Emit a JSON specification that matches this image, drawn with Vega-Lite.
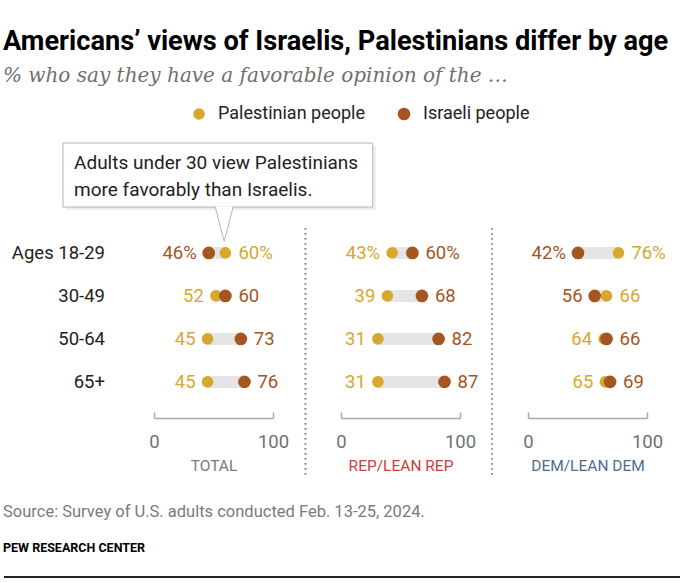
{
  "$schema": "https://vega.github.io/schema/vega-lite/v6.json",
  "padding": {"left": 3, "top": 27, "right": 2, "bottom": 2},
  "background": "white",
  "title": {
    "text": "Americans’ views of Israelis, Palestinians differ by age",
    "subtitle": "% who say they have a favorable opinion of the …",
    "anchor": "start",
    "font": "Roboto",
    "fontSize": 27.2,
    "fontWeight": "bold",
    "color": "#000000",
    "subtitleFont": "DejaVu Serif",
    "subtitleFontStyle": "italic",
    "subtitleFontSize": 20,
    "subtitleColor": "#707070",
    "subtitlePadding": 10,
    "offset": 18
  },
  "data": {
    "values": [
      {"panel": "TOTAL", "age": "Ages 18-29", "Palestinian": 60, "Israeli": 46},
      {"panel": "TOTAL", "age": "30-49", "Palestinian": 52, "Israeli": 60},
      {"panel": "TOTAL", "age": "50-64", "Palestinian": 45, "Israeli": 73},
      {"panel": "TOTAL", "age": "65+", "Palestinian": 45, "Israeli": 76},
      {"panel": "REP", "age": "Ages 18-29", "Palestinian": 43, "Israeli": 60},
      {"panel": "REP", "age": "30-49", "Palestinian": 39, "Israeli": 68},
      {"panel": "REP", "age": "50-64", "Palestinian": 31, "Israeli": 82},
      {"panel": "REP", "age": "65+", "Palestinian": 31, "Israeli": 87},
      {"panel": "DEM", "age": "Ages 18-29", "Palestinian": 76, "Israeli": 42},
      {"panel": "DEM", "age": "30-49", "Palestinian": 66, "Israeli": 56},
      {"panel": "DEM", "age": "50-64", "Palestinian": 64, "Israeli": 66},
      {"panel": "DEM", "age": "65+", "Palestinian": 65, "Israeli": 69}
    ]
  },
  "transform": [
    {"window": [{"op": "row_number", "as": "row"}], "groupby": ["panel"]},
    {"calculate": "min(datum.Palestinian, datum.Israeli)", "as": "lo"},
    {"calculate": "max(datum.Palestinian, datum.Israeli)", "as": "hi"}
  ],
  "spacing": 25,
  "vconcat": [
    {
      "spacing": 68,
      "bounds": "flush",
      "hconcat": [
        {
          "width": 119,
          "height": 190,
          "transform": [{"filter": "datum.panel == 'TOTAL'"}],
          "encoding": {
            "y": {"field": "row", "type": "quantitative", "scale": {"domain": [0.42, 4.84], "reverse": true, "nice": false, "zero": false}, "axis": null}
          },
          "layer": [
            {
              "mark": {"type": "rule", "color": "#9a9a9a", "strokeWidth": 1.5, "strokeDash": [1.5, 3.5]},
              "encoding": {
                "x": {"datum": 127.3, "type": "quantitative"},
                "y": {"datum": 0.42, "type": "quantitative"},
                "y2": {"datum": 6.23}
              }
            },
            {
              "mark": {"type": "rule", "color": "#e5e5e5", "strokeWidth": 12, "strokeCap": "butt"},
              "encoding": {
                "x": {"field": "lo", "type": "quantitative", "scale": {"domain": [0, 100], "nice": false},
                      "axis": {"values": [0, 100], "title": "TOTAL", "titleColor": "#7a7a7a"}},
                "x2": {"field": "hi"}
              }
            },
            {
              "transform": [{"fold": ["Palestinian", "Israeli"], "as": ["group", "value"]}],
              "mark": {"type": "circle", "opacity": 1},
              "encoding": {
                "x": {"field": "value", "type": "quantitative"},
                "color": {"field": "group", "type": "nominal",
                  "scale": {"domain": ["Palestinian", "Israeli"], "range": ["#D6A82F", "#A5551F"]},
                  "legend": {"orient": "none", "legendX": 36, "legendY": -123, "direction": "horizontal", "columns": 2, "title": null,
                    "labelExpr": "datum.label + ' people'", "symbolType": "circle", "symbolSize": 130, "labelOffset": 10, "columnPadding": 30}},
                "size": {"field": "group", "type": "nominal", "scale": {"domain": ["Palestinian", "Israeli"], "range": [135, 160]}, "legend": null}
              }
            },
            {
              "transform": [
                {"fold": ["Palestinian", "Israeli"], "as": ["group", "value"]},
                {"filter": "datum.value == datum.lo"},
                {"calculate": "datum.row == 1 ? datum.value + '%' : '' + datum.value", "as": "label"}
              ],
              "mark": {"type": "text", "align": "right", "baseline": "middle", "dx": -12, "fontSize": 18.5},
              "encoding": {
                "x": {"field": "value", "type": "quantitative"},
                "text": {"field": "label"},
                "color": {"field": "group", "type": "nominal", "legend": null}
              }
            },
            {
              "transform": [
                {"fold": ["Palestinian", "Israeli"], "as": ["group", "value"]},
                {"filter": "datum.value == datum.hi"},
                {"calculate": "datum.row == 1 ? datum.value + '%' : '' + datum.value", "as": "label"}
              ],
              "mark": {"type": "text", "align": "left", "baseline": "middle", "dx": 13, "fontSize": 18.5},
              "encoding": {
                "x": {"field": "value", "type": "quantitative"},
                "text": {"field": "label"},
                "color": {"field": "group", "type": "nominal", "legend": null}
              }
            },
            {
              "mark": {"type": "text", "align": "right", "baseline": "middle", "fontSize": 18.5, "color": "#222222"},
              "encoding": {
                "x": {"datum": -41.2, "type": "quantitative"},
                "text": {"field": "age"}
              }
            },
            {
              "transform": [{"filter": "datum.row == 1"}],
              "mark": {"type": "rect", "fill": "#000000", "opacity": 0.07, "xOffset": 3, "x2Offset": 3, "yOffset": 3, "y2Offset": 3},
              "encoding": {
                "x": {"datum": -76.5, "type": "quantitative"},
                "x2": {"datum": 183.8},
                "y": {"datum": -1.557, "type": "quantitative"},
                "y2": {"datum": -0.068}
              }
            },
            {
              "transform": [{"filter": "datum.row == 1"}],
              "mark": {"type": "rect", "fill": "#ffffff", "stroke": "#b5b5b5", "strokeWidth": 1},
              "encoding": {
                "x": {"datum": -76.5, "type": "quantitative"},
                "x2": {"datum": 183.8},
                "y": {"datum": -1.557, "type": "quantitative"},
                "y2": {"datum": -0.068}
              }
            },
            {
              "transform": [{"filter": "datum.row == 1"}],
              "mark": {"type": "point", "shape": "M-0.55,-1.12L0,1L0.55,-1.12", "size": 1089, "filled": true, "fill": "#ffffff", "stroke": "#b5b5b5", "strokeWidth": 1, "opacity": 1},
              "encoding": {
                "x": {"datum": 59, "type": "quantitative"},
                "y": {"datum": 0.35, "type": "quantitative"}
              }
            },
            {
              "transform": [{"filter": "datum.row == 1"}],
              "mark": {"type": "text", "align": "left", "baseline": "middle", "fontSize": 19, "lineHeight": 27, "color": "#222222",
                       "text": ["Adults under 30 view Palestinians", "more favorably than Israelis."]},
              "encoding": {
                "x": {"datum": -67.2, "type": "quantitative"},
                "y": {"datum": -1.092, "type": "quantitative"}
              }
            }
          ]
        },
        {
          "width": 119,
          "height": 190,
          "transform": [{"filter": "datum.panel == 'REP'"}],
          "encoding": {
            "y": {"field": "row", "type": "quantitative", "scale": {"domain": [0.42, 4.84], "reverse": true, "nice": false, "zero": false}, "axis": null}
          },
          "layer": [
            {
              "mark": {"type": "rule", "color": "#9a9a9a", "strokeWidth": 1.5, "strokeDash": [1.5, 3.5]},
              "encoding": {
                "x": {"datum": 127, "type": "quantitative"},
                "y": {"datum": 0.42, "type": "quantitative"},
                "y2": {"datum": 6.23}
              }
            },
            {
              "mark": {"type": "rule", "color": "#e5e5e5", "strokeWidth": 12, "strokeCap": "butt"},
              "encoding": {
                "x": {"field": "lo", "type": "quantitative", "scale": {"domain": [0, 100], "nice": false},
                      "axis": {"values": [0, 100], "title": "REP/LEAN REP", "titleColor": "#C8403A"}},
                "x2": {"field": "hi"}
              }
            },
            {
              "transform": [{"fold": ["Palestinian", "Israeli"], "as": ["group", "value"]}],
              "mark": {"type": "circle", "opacity": 1},
              "encoding": {
                "x": {"field": "value", "type": "quantitative"},
                "color": {"field": "group", "type": "nominal"},
                "size": {"field": "group", "type": "nominal", "legend": null}
              }
            },
            {
              "transform": [
                {"fold": ["Palestinian", "Israeli"], "as": ["group", "value"]},
                {"filter": "datum.value == datum.lo"},
                {"calculate": "datum.row == 1 ? datum.value + '%' : '' + datum.value", "as": "label"}
              ],
              "mark": {"type": "text", "align": "right", "baseline": "middle", "dx": -12, "fontSize": 18.5},
              "encoding": {
                "x": {"field": "value", "type": "quantitative"},
                "text": {"field": "label"},
                "color": {"field": "group", "type": "nominal", "legend": null}
              }
            },
            {
              "transform": [
                {"fold": ["Palestinian", "Israeli"], "as": ["group", "value"]},
                {"filter": "datum.value == datum.hi"},
                {"calculate": "datum.row == 1 ? datum.value + '%' : '' + datum.value", "as": "label"}
              ],
              "mark": {"type": "text", "align": "left", "baseline": "middle", "dx": 13, "fontSize": 18.5},
              "encoding": {
                "x": {"field": "value", "type": "quantitative"},
                "text": {"field": "label"},
                "color": {"field": "group", "type": "nominal", "legend": null}
              }
            }
          ]
        },
        {
          "width": 119,
          "height": 190,
          "transform": [{"filter": "datum.panel == 'DEM'"}],
          "encoding": {
            "y": {"field": "row", "type": "quantitative", "scale": {"domain": [0.42, 4.84], "reverse": true, "nice": false, "zero": false}, "axis": null}
          },
          "layer": [
            {
              "mark": {"type": "rule", "color": "#e5e5e5", "strokeWidth": 12, "strokeCap": "butt"},
              "encoding": {
                "x": {"field": "lo", "type": "quantitative", "scale": {"domain": [0, 100], "nice": false},
                      "axis": {"values": [0, 100], "title": "DEM/LEAN DEM", "titleColor": "#4D6F8E"}},
                "x2": {"field": "hi"}
              }
            },
            {
              "transform": [{"fold": ["Palestinian", "Israeli"], "as": ["group", "value"]}],
              "mark": {"type": "circle", "opacity": 1},
              "encoding": {
                "x": {"field": "value", "type": "quantitative"},
                "color": {"field": "group", "type": "nominal"},
                "size": {"field": "group", "type": "nominal", "legend": null}
              }
            },
            {
              "transform": [
                {"fold": ["Palestinian", "Israeli"], "as": ["group", "value"]},
                {"filter": "datum.value == datum.lo"},
                {"calculate": "datum.row == 1 ? datum.value + '%' : '' + datum.value", "as": "label"}
              ],
              "mark": {"type": "text", "align": "right", "baseline": "middle", "dx": -12, "fontSize": 18.5},
              "encoding": {
                "x": {"field": "value", "type": "quantitative"},
                "text": {"field": "label"},
                "color": {"field": "group", "type": "nominal", "legend": null}
              }
            },
            {
              "transform": [
                {"fold": ["Palestinian", "Israeli"], "as": ["group", "value"]},
                {"filter": "datum.value == datum.hi"},
                {"calculate": "datum.row == 1 ? datum.value + '%' : '' + datum.value", "as": "label"}
              ],
              "mark": {"type": "text", "align": "left", "baseline": "middle", "dx": 13, "fontSize": 18.5},
              "encoding": {
                "x": {"field": "value", "type": "quantitative"},
                "text": {"field": "label"},
                "color": {"field": "group", "type": "nominal", "legend": null}
              }
            }
          ]
        }
      ]
    },
    {
      "width": 527,
      "height": 1,
      "data": {"values": [{}]},
      "title": {
        "text": "Source: Survey of U.S. adults conducted Feb. 13-25, 2024.",
        "subtitle": "PEW RESEARCH CENTER",
        "anchor": "start",
        "font": "Roboto",
        "fontSize": 16.5,
        "fontWeight": "normal",
        "color": "#7a7a7a",
        "subtitleFont": "Roboto",
        "subtitleFontSize": 12.5,
        "subtitleFontWeight": "bold",
        "subtitleColor": "#000000",
        "subtitlePadding": 21,
        "offset": 22
      },
      "mark": {"type": "rule", "color": "#222222", "strokeWidth": 2},
      "encoding": {
        "x": {"datum": -150, "type": "quantitative", "scale": {"domain": [0, 527], "nice": false}, "axis": null},
        "x2": {"datum": 527},
        "y": {"datum": 0, "type": "quantitative", "scale": {"domain": [0, 1]}, "axis": null}
      }
    }
  ],
  "config": {
    "view": {"stroke": null},
    "font": "Roboto",
    "text": {"font": "Roboto"},
    "axis": {
      "grid": false,
      "labelFont": "Roboto",
      "labelFontSize": 18.5,
      "labelColor": "#707070",
      "labelFlush": false,
      "titleFont": "Roboto",
      "titleFontSize": 15.5,
      "titleFontWeight": "normal",
      "domainColor": "#a8a8a8",
      "domainWidth": 1.5,
      "tickColor": "#a8a8a8",
      "tickWidth": 1.5,
      "tickSize": -6,
      "labelPadding": 20,
      "titlePadding": 7.5
    },
    "legend": {
      "labelFont": "Roboto",
      "labelFontSize": 18,
      "labelColor": "#222222",
      "symbolStrokeWidth": 0
    }
  }
}
